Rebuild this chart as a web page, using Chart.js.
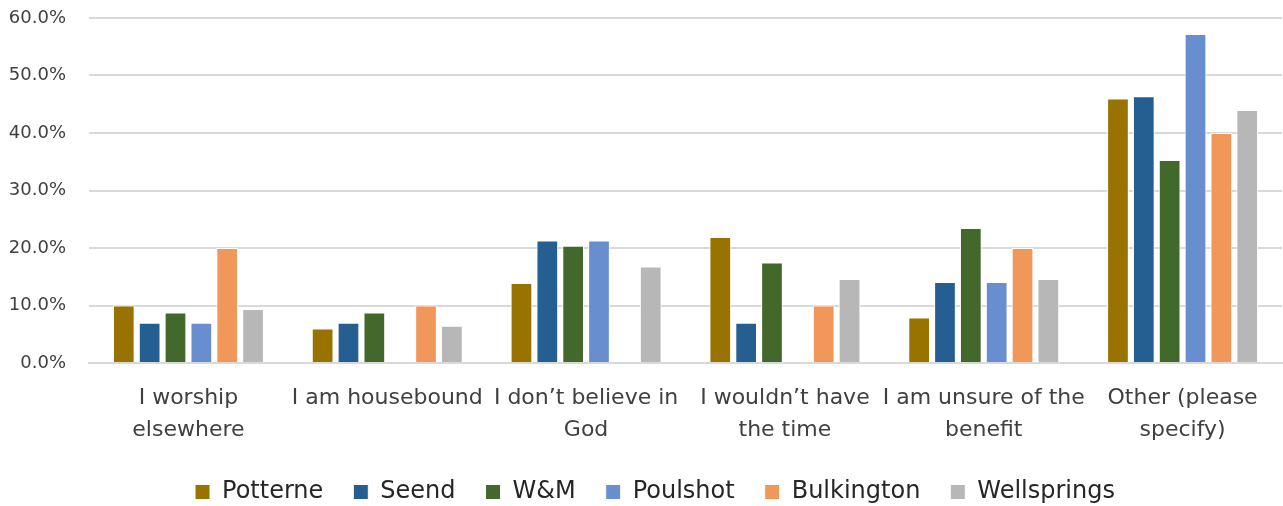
<!DOCTYPE html>
<html>
<head>
<meta charset="utf-8">
<script src="https://cdn.jsdelivr.net/npm/chart.js@4"></script>
<style>
html,body{margin:0;padding:0;background:#fff;overflow:hidden;}
#wrap{width:1283px;height:514px;position:relative;}
</style>
</head>
<body>
<div id="wrap"><canvas id="c"></canvas></div>
<script>
const categories = [
  ["I worship", "elsewhere"],
  ["I am housebound"],
  ["I don\u2019t believe in", "God"],
  ["I wouldn\u2019t have", "the time"],
  ["I am unsure of the", "benefit"],
  ["Other (please", "specify)"]
];
const seriesNames = ["Potterne", "Seend", "W&M", "Poulshot", "Bulkington", "Wellsprings"];
const potterne    = [10.0, 6.0, 13.9, 21.9, 7.9, 46.0];
const seend       = [7.0, 7.0, 21.3, 7.0, 14.1, 46.4];
const wm          = [8.8, 8.8, 20.4, 17.5, 23.5, 35.3];
const poulshot    = [7.0, 0, 21.3, 0, 14.1, 57.2];
const bulkington  = [20.0, 10.0, 0, 10.0, 20.0, 40.0];
const wellsprings = [9.4, 6.5, 16.8, 14.6, 14.6, 44.0];
const yTicks = [0, 10, 20, 30, 40, 50, 60];

const colors = ["#997300", "#255E91", "#43682B", "#698ED0", "#F1975A", "#B7B7B7"];
const values = [potterne, seend, wm, poulshot, bulkington, wellsprings];
const FONT = "'DejaVu Sans', sans-serif";

new Chart(document.getElementById('c'), {
  type: 'bar',
  data: {
    labels: categories,
    datasets: seriesNames.map((n, i) => ({
      label: n,
      data: values[i],
      backgroundColor: colors[i],
      borderColor: '#ffffff',
      borderWidth: 1,
      categoryPercentage: 0.78,
      barPercentage: 0.84
    }))
  },
  options: {
    responsive: true,
    maintainAspectRatio: false,
    animation: false,
    layout: { padding: { top: 18, right: 1, bottom: 0, left: 28 } },
    plugins: {
      tooltip: { enabled: false },
      legend: {
        position: 'bottom',
        labels: {
          color: '#262626',
          font: { family: FONT, size: 24 },
          boxWidth: 15,
          boxHeight: 15,
          padding: 30
        }
      }
    },
    scales: {
      x: {
        grid: { display: false, drawTicks: false },
        border: { display: true, color: '#d9d9d9', width: 2 },
        afterFit: (s) => { s.height = 87; },
        ticks: {
          color: '#404040',
          font: { family: FONT, size: 22, lineHeight: 1.4545 },
          padding: 19,
          maxRotation: 0,
          autoSkip: false
        }
      },
      y: {
        min: 0,
        max: 60,
        afterBuildTicks: (s) => { s.ticks = yTicks.map(v => ({ value: v })); },
        afterFit: (s) => {
          s.width = 61; s.paddingTop = 0; s.paddingBottom = 0;
          s._computeLabelArea = () => undefined;
        },
        grid: { color: '#d9d9d9', lineWidth: 2, drawTicks: false },
        border: { display: false },
        ticks: {
          color: '#404040',
          font: { family: FONT, size: 18 },
          padding: 23,
          callback: (v) => v.toFixed(1) + '%'
        }
      }
    }
  }
});
</script>
</body>
</html>
